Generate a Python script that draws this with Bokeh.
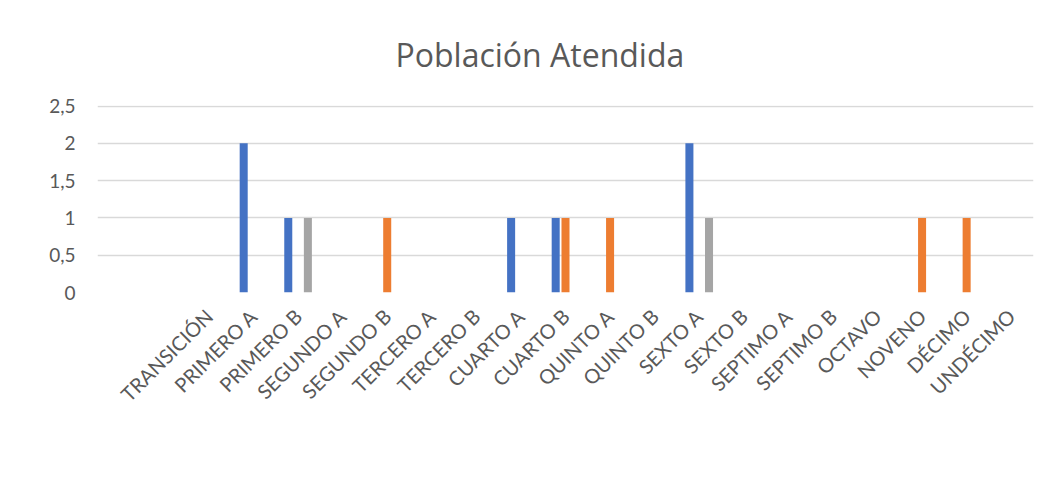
import math
from bokeh.plotting import figure
from bokeh.models import FixedTicker, Legend, LegendItem, Range1d, Title
from bokeh.embed import file_html
from bokeh.resources import INLINE

categories = ["TRANSICIÓN", "PRIMERO A", "PRIMERO B", "SEGUNDO A", "SEGUNDO B",
              "TERCERO A", "TERCERO B", "CUARTO A", "CUARTO B", "QUINTO A",
              "QUINTO B", "SEXTO A", "SEXTO B", "SEPTIMO A", "SEPTIMO B",
              "OCTAVO", "NOVENO", "DÉCIMO", "UNDÉCIMO"]
necesidades = [0, 2, 1, 0, 0, 0, 0, 1, 1, 0, 0, 2, 0, 0, 0, 0, 0, 0, 0]
desplazada = [0, 0, 0, 0, 1, 0, 0, 0, 1, 1, 0, 0, 0, 0, 0, 0, 1, 1, 0]
afro = [0, 0, 1, 0, 0, 0, 0, 0, 0, 0, 0, 1, 0, 0, 0, 0, 0, 0, 0]
series_names = ["Necesidades educativas especiales", "Población desplazada",
                "Población afrocolombiana"]
y_ticks = [0, 0.5, 1, 1.5, 2, 2.5]
y_tick_labels = ["0", "0,5", "1", "1,5", "2", "2,5"]
chart_title = "Población Atendida"

colors = ["#4472C4", "#ED7D31", "#A5A5A5"]
text_color = "#595959"
FONT = "Lato"

p = figure(frame_width=936, frame_height=187, output_backend="svg", toolbar_location=None,
           x_range=Range1d(-2.5, 18.5), y_range=Range1d(0, 2.507),
           min_border_left=97, min_border_right=17, min_border_top=100,
           min_border_bottom=150)
p.outline_line_color = None

title = Title(text=chart_title, align="left", offset=298, standoff=60,
              vertical_align="bottom", text_font="Open Sans",
              text_font_size="32px", text_font_style="normal",
              text_color=text_color)
p.add_layout(title, "above")

xs = list(range(len(categories)))
offsets = [-0.22, 0.0, 0.22]
renderers = []
for vals, off, col in zip([necesidades, desplazada, afro], offsets, colors):
    r = p.vbar(x=[x + off for x in xs], top=vals, width=0.18, bottom=0,
               fill_color=col, line_color=None)
    renderers.append(r)

# axes
p.xaxis.ticker = FixedTicker(ticks=xs)
p.xaxis.major_label_overrides = {i: c for i, c in enumerate(categories)}
p.xaxis.major_label_orientation = math.pi / 4
p.xaxis.axis_line_color = None
p.xaxis.major_tick_line_color = None
p.xaxis.minor_tick_line_color = None
p.xaxis.major_tick_out = 0
p.xaxis.major_label_text_font = FONT
p.xaxis.major_label_text_font_size = "20px"
p.xaxis.major_label_text_color = text_color
p.xaxis.major_label_standoff = 20

p.yaxis.ticker = FixedTicker(ticks=y_ticks)
p.yaxis.major_label_overrides = {t: l for t, l in zip(y_ticks, y_tick_labels)}
p.yaxis.axis_line_color = None
p.yaxis.major_tick_line_color = None
p.yaxis.minor_tick_line_color = None
p.yaxis.major_tick_out = 0
p.yaxis.major_label_text_font = FONT
p.yaxis.major_label_text_font_size = "19px"
p.yaxis.major_label_text_color = text_color
p.yaxis.major_label_standoff = 22

p.xgrid.grid_line_color = None
p.ygrid.grid_line_color = "#d9d9d9"
p.ygrid.grid_line_width = 1.5

legend = Legend(items=[LegendItem(label=n, renderers=[r]) for n, r in zip(series_names, renderers)],
                orientation="horizontal", location="center",
                label_text_font=FONT, label_text_font_size="22px",
                label_text_color=text_color, glyph_width=10, glyph_height=10,
                spacing=27, label_standoff=6, border_line_color=None,
                background_fill_alpha=0, margin=30)
p.add_layout(legend, "below")

open("out.html", "w").write(file_html(p, INLINE))
